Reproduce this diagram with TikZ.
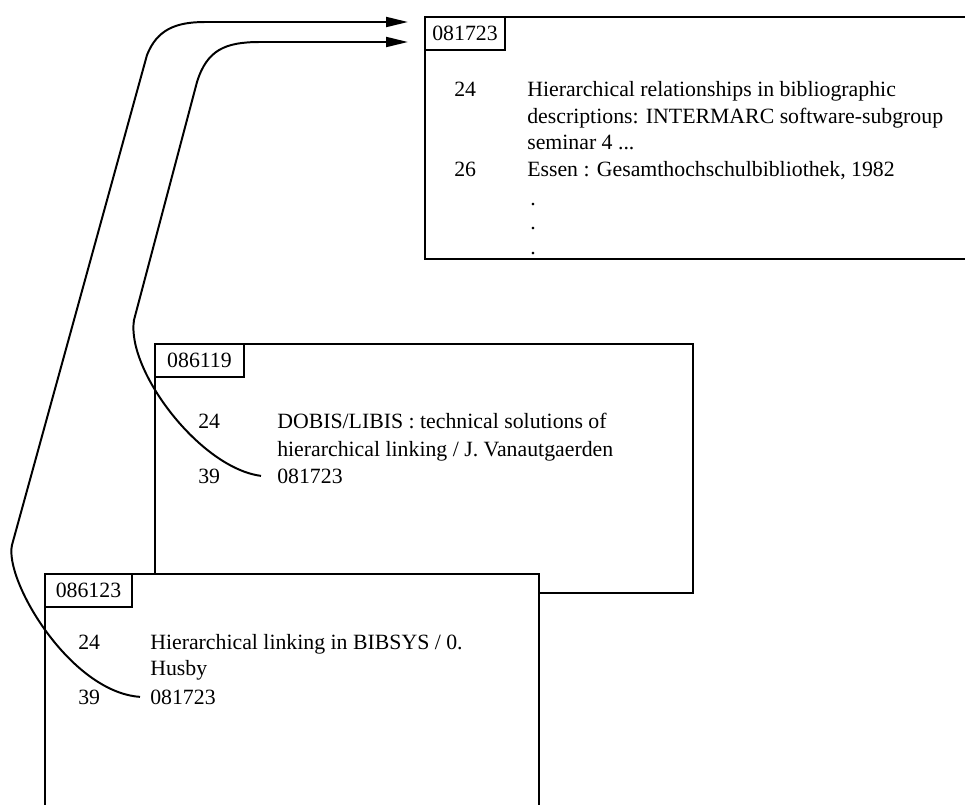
\documentclass[tikz,border=0pt]{standalone}
\usepackage{fontspec}
\setmainfont{Liberation Serif}
\usetikzlibrary{arrows.meta,positioning}

\begin{document}
\begin{tikzpicture}[x=0.025cm,y=-0.025cm,
        card/.style={draw,line width=1.4pt,fill=white,anchor=north west,inner sep=0pt},
        tabbox/.style={draw,line width=1.4pt,fill=white,anchor=north west,inner sep=0pt,
          minimum height=0.825cm,font=\fontsize{15.5}{19}\selectfont},
        fld/.style={anchor=base west,inner sep=0pt,font=\fontsize{15.5}{19}\selectfont},
        arr/.style={-{Triangle[length=5.5mm,width=2.5mm]},line width=1.4pt}]
        \useasboundingbox (0,0) rectangle (965,804);
        \clip (0,0) rectangle (965,804);
        % record 081723
        \node[card,minimum width=14cm,minimum height=6.05cm](topcard) at (424,16){};
        \node[tabbox,minimum width=2cm](toptab) at (topcard.north west){081723};
        \node[fld](t24) at (454,96){24};
        \node[fld](t24a) at (527,96){Hierarchical relationships in bibliographic};
        \node[fld](t24b) at (527,123){descriptions: INTERMARC software-subgroup};
        \node[fld](t24c) at (527,149){seminar 4 ...};
        \node[fld](t26) at (454,176){26};
        \node[fld](t26a) at (527,176){Essen : Gesamthochschulbibliothek, 1982};
        \node[fld](tdot1) at (530,205){.};
        \node[fld](tdot2) at (530,229){.};
        \node[fld](tdot3) at (530,254){.};
        % record 086119
        \node[card,minimum width=13.45cm,minimum height=6.225cm](midcard) at (154,343){};
        \node[tabbox,minimum width=2.225cm](midtab) at (midcard.north west){086119};
        \node[fld](m24) at (198,428){24};
        \node[fld](m24a) at (277,428){DOBIS/LIBIS : technical solutions of};
        \node[fld](m24b) at (277,456){hierarchical linking / J. Vanautgaerden};
        \node[fld](m39) at (198,483){39};
        \node[fld](mlink) at (277,483){081723};
        % record 086123
        \node[card,minimum width=12.35cm,minimum height=6.6cm](botcard) at (44,573){};
        \node[tabbox,minimum width=2.175cm](bottab) at (botcard.north west){086123};
        \node[fld](b24) at (78,649){24};
        \node[fld](b24a) at (150,649){Hierarchical linking in BIBSYS / 0.};
        \node[fld](b24b) at (150,675){Husby};
        \node[fld](b39) at (78,704){39};
        \node[fld](blink) at (150,704){081723};
        \coordinate (in1) at (408,22);
        \coordinate (in2) at (408,42);
        \draw[arr]([xshift=-2.5mm]blink.west) .. controls (70,692) and (4,580) .. (12,545)
          -- (147,55) .. controls (157,30) and (175,22) .. (205,22) -- (in1);
        \draw[arr]([xshift=-4mm]mlink.west) .. controls (200,468) and (126,370) .. (134,320)
          -- (197,82) .. controls (207,50) and (225,42) .. (260,42) -- (in2);
      \end{tikzpicture}
\end{document}
